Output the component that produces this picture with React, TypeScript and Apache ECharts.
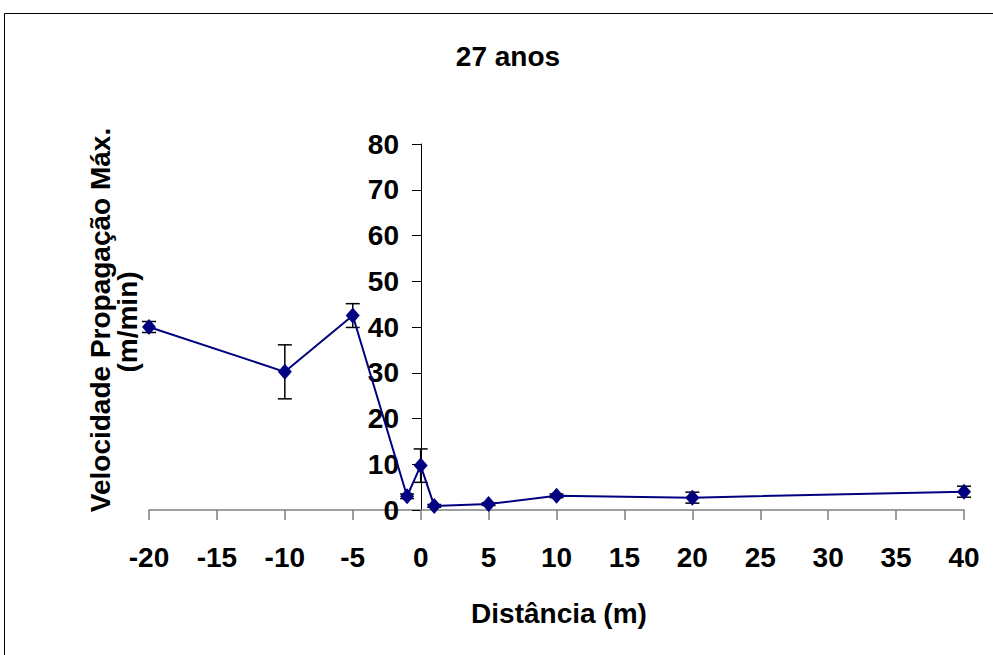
import React, { useEffect, useRef } from "react";
import * as echarts from "echarts";

const distances = [-20, -10, -5, -1, 0, 1, 5, 10, 20, 40];
const velocities = [40.0, 30.2, 42.5, 3.0, 9.7, 0.9, 1.3, 3.1, 2.7, 4.0];
const errors = [1.2, 5.9, 2.6, 0.5, 3.65, 0.3, 0.3, 0.4, 1.2, 1.2];

const titleText = "27 anos";
const xTitle = "Distância (m)";
const yTitle1 = "Velocidade Propagação Máx.";
const yTitle2 = "(m/min)";

const FONT = "'Liberation Sans', Arial, sans-serif";

export default function App() {
  const ref = useRef<HTMLDivElement>(null);
  useEffect(() => {
    document.body.style.margin = "0";
    const chart = echarts.init(ref.current!, null, { renderer: "svg" });
    const errData = distances.map((x, i) => [x, velocities[i] - errors[i], velocities[i] + errors[i]]);
    chart.setOption({
      animation: false,
      backgroundColor: "#ffffff",
      grid: { left: 149, right: 29, top: 144, bottom: 145 },
      xAxis: {
        type: "value",
        min: -20,
        max: 40,
        interval: 5,
        splitLine: { show: false },
        axisLine: { onZero: false, lineStyle: { color: "#7f7f7f", width: 1.5 } },
        axisTick: { length: 10, lineStyle: { color: "#7f7f7f", width: 1.5 } },
        axisLabel: { margin: 33, fontSize: 28, fontWeight: "bold", color: "#000", fontFamily: FONT },
      },
      yAxis: {
        type: "value",
        min: 0,
        max: 80,
        interval: 10,
        position: "left",
        offset: -272,
        splitLine: { show: false },
        axisLine: { show: true, onZero: false, lineStyle: { color: "#000", width: 1 } },
        axisTick: { show: true, length: 9, lineStyle: { color: "#000", width: 1 } },
        axisLabel: { margin: 22, fontSize: 28, fontWeight: "bold", color: "#000", fontFamily: FONT },
      },
      series: [
        {
          type: "custom",
          z: 1,
          data: errData,
          encode: { x: 0, y: [1, 2] },
          renderItem: (params: any, api: any) => {
            const x = api.value(0);
            const lo = api.coord([x, api.value(1)]);
            const hi = api.coord([x, api.value(2)]);
            const hw = 7;
            const style = { stroke: "#000", lineWidth: 1.5 };
            return {
              type: "group",
              children: [
                { type: "line", shape: { x1: lo[0], y1: lo[1], x2: hi[0], y2: hi[1] }, style },
                { type: "line", shape: { x1: lo[0] - hw, y1: lo[1], x2: lo[0] + hw, y2: lo[1] }, style },
                { type: "line", shape: { x1: hi[0] - hw, y1: hi[1], x2: hi[0] + hw, y2: hi[1] }, style },
              ],
            };
          },
        },
        {
          type: "line",
          z: 3,
          data: distances.map((x, i) => [x, velocities[i]]),
          symbol: "diamond",
          symbolSize: [14, 16],
          lineStyle: { color: "#000080", width: 2 },
          itemStyle: { color: "#000080" },
        },
      ],
      graphic: [
        {
          type: "rect",
          shape: { x: 4.5, y: 13.5, width: 1000, height: 700 },
          style: { fill: "none", stroke: "#000", lineWidth: 1 },
          silent: true,
        },
        {
          type: "text",
          x: 508,
          y: 56,
          style: { text: titleText, font: `bold 28px ${FONT}`, fill: "#000", textAlign: "center", textVerticalAlign: "middle" },
        },
        {
          type: "text",
          x: 559,
          y: 613,
          style: { text: xTitle, font: `bold 28px ${FONT}`, fill: "#000", textAlign: "center", textVerticalAlign: "middle" },
        },
        {
          type: "text",
          x: 100,
          y: 320,
          rotation: Math.PI / 2,
          style: { text: yTitle1, font: `bold 28px ${FONT}`, fill: "#000", textAlign: "center", textVerticalAlign: "middle" },
        },
        {
          type: "text",
          x: 127,
          y: 322,
          rotation: Math.PI / 2,
          style: { text: yTitle2, font: `bold 28px ${FONT}`, fill: "#000", textAlign: "center", textVerticalAlign: "middle" },
        },
      ],
    });
    return () => chart.dispose();
  }, []);
  return <div ref={ref} style={{ width: 993, height: 655 }} />;
}
